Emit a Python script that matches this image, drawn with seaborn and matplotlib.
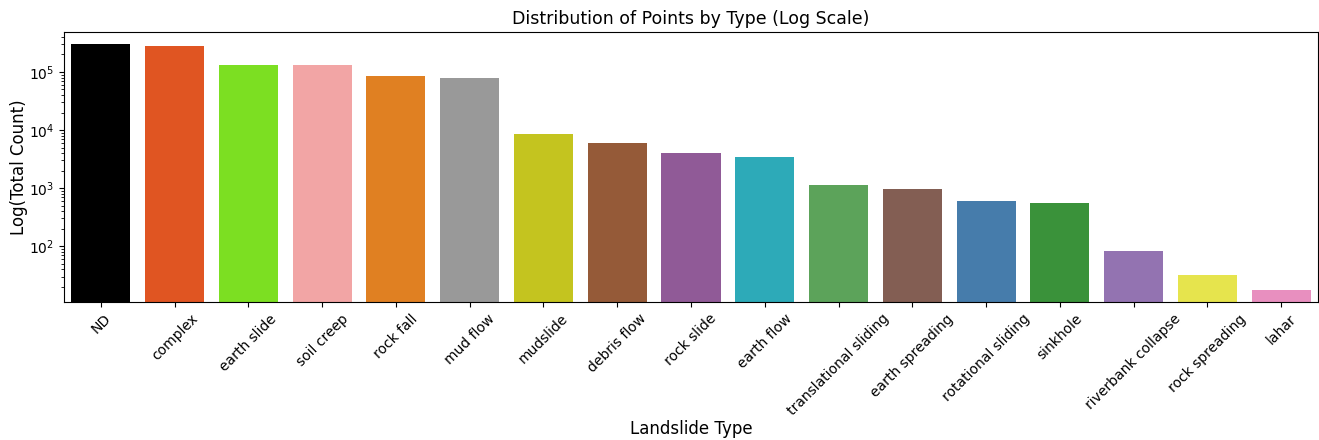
import matplotlib
matplotlib.use("Agg")
import matplotlib.pyplot as plt
import seaborn as sns
import pandas as pd

# landslide types and their total point counts
types = ["ND", "complex", "earth slide", "soil creep", "rock fall", "mud flow",
         "mudslide", "debris flow", "rock slide", "earth flow",
         "translational sliding", "earth spreading", "rotational sliding",
         "sinkhole", "riverbank collapse", "rock spreading", "lahar"]
counts = [300000, 277000, 134000, 130000, 86000, 78000,
          8400, 6050, 4070, 3390,
          1130, 975, 590, 545, 84, 31.6, 17.8]
colors = ["#000000", "#E05522", "#7CDF22", "#F2A5A5", "#E08022", "#999999",
          "#C4C41F", "#955A38", "#905A97", "#2DAAB8",
          "#5CA35A", "#835E53", "#467CAB", "#3A923A", "#9373B1", "#E6E44D", "#E88FBF"]

df = pd.DataFrame({"Landslide Type": types, "Total Count": counts})

fig, ax = plt.subplots(figsize=(13.19, 4.4), dpi=100)
sns.barplot(data=df, x="Landslide Type", y="Total Count", hue="Landslide Type",
            palette=dict(zip(types, colors)), legend=False, saturation=1, ax=ax)
ax.set_yscale("log")
ax.set_title("Distribution of Points by Type (Log Scale)", fontsize=12.5)
ax.set_xlabel("Landslide Type", fontsize=12, labelpad=1)
ax.set_ylabel("Log(Total Count)", fontsize=12, labelpad=0.5)
plt.xticks(rotation=45)
fig.subplots_adjust(left=64 / 1319, right=1318 / 1319, top=1 - 32 / 440, bottom=1 - 302 / 440)
fig.savefig("out.png")
